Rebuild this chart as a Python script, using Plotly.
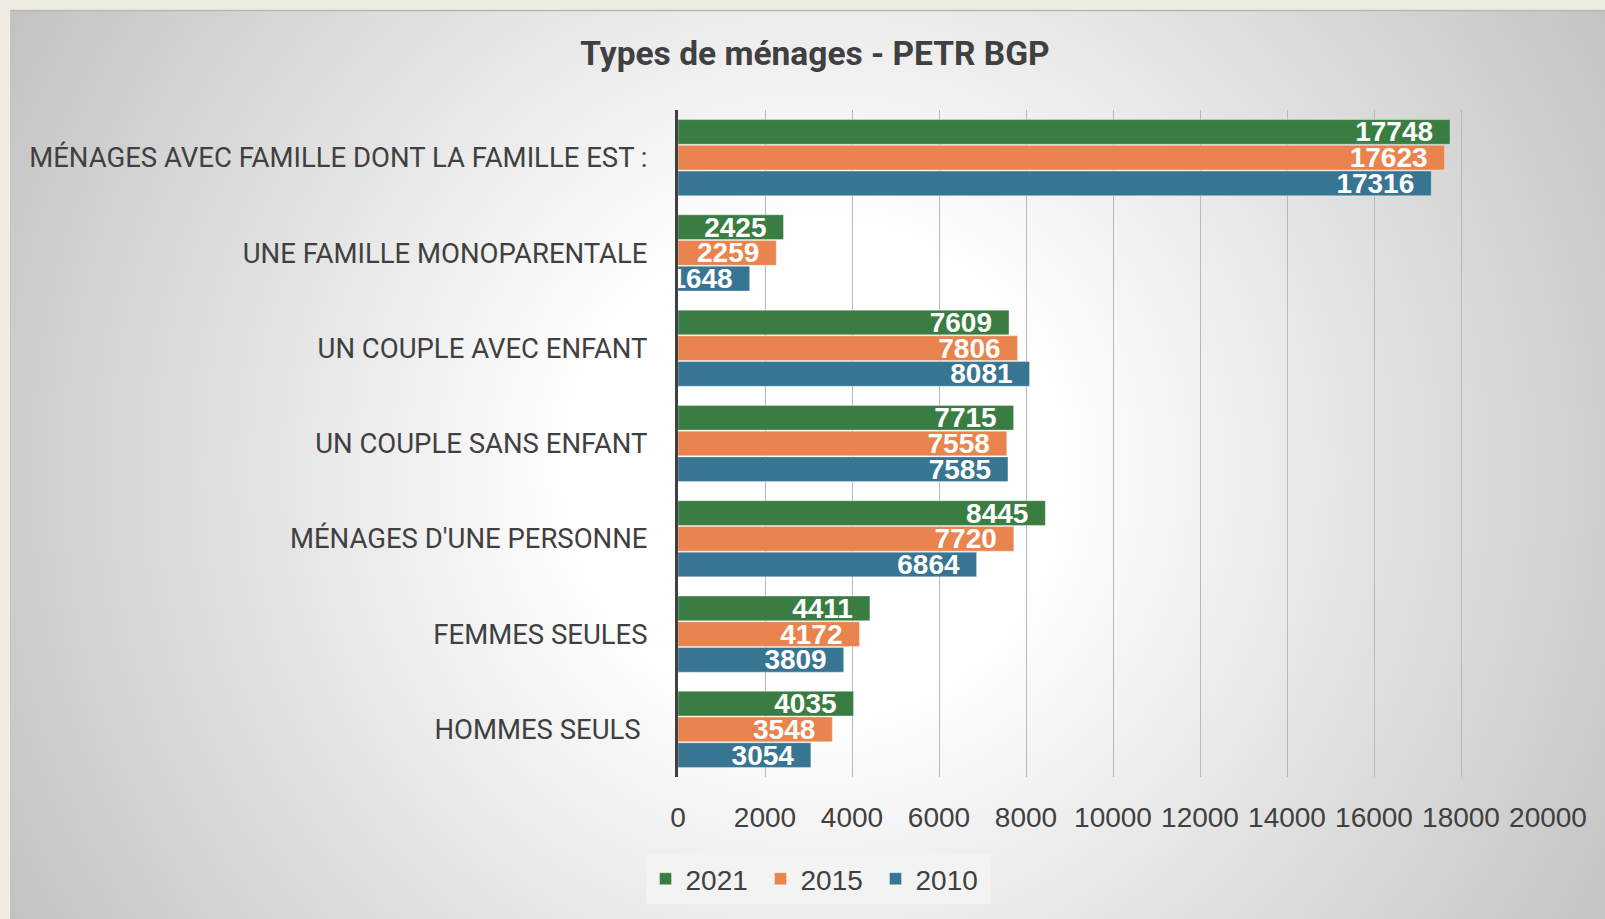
import base64
import plotly.graph_objects as go

categories = [
    "MÉNAGES AVEC FAMILLE DONT LA FAMILLE EST :",
    "UNE FAMILLE MONOPARENTALE",
    "UN COUPLE AVEC ENFANT",
    "UN COUPLE SANS ENFANT",
    "MÉNAGES D'UNE PERSONNE",
    "FEMMES SEULES",
    "HOMMES SEULS\u00a0",
]
values_2021 = [17748, 2425, 7609, 7715, 8445, 4411, 4035]
values_2015 = [17623, 2259, 7806, 7558, 7720, 4172, 3548]
values_2010 = [17316, 1648, 8081, 7585, 6864, 3809, 3054]
series_names = ["2021", "2015", "2010"]
series_colors = ["#3A7D43", "#E9844E", "#377592"]
x_ticks = [0, 2000, 4000, 6000, 8000, 10000, 12000, 14000, 16000, 18000, 20000]

W, H = 1605, 919
ML, MR, MT, MB = 678, 57, 110, 142
PW = W - ML - MR
PH = H - MT - MB

svg = f'''<svg xmlns="http://www.w3.org/2000/svg" width="{W}" height="{H}" viewBox="0 0 {W} {H}">
<defs><radialGradient id="g" gradientUnits="userSpaceOnUse" cx="815" cy="470" r="1000">
<stop offset="0.24" stop-color="#FFFFFF"/><stop offset="1" stop-color="#BCBCBC"/></radialGradient></defs>
<rect x="0" y="0" width="{W}" height="{H}" fill="#EFECE2"/>
<rect x="10" y="10" width="{W-10}" height="{H-10}" fill="url(#g)"/>
<line x1="10" y1="10.5" x2="{W}" y2="10.5" stroke="#B8B8B8" stroke-width="1.5"/>
<line x1="10.5" y1="10" x2="10.5" y2="{H}" stroke="#C4C4C4" stroke-width="1"/>
</svg>'''
bg_uri = "data:image/svg+xml;base64," + base64.b64encode(svg.encode()).decode()

fig = go.Figure()
for name, vals, col in zip(series_names, [values_2021, values_2015, values_2010], series_colors):
    fig.add_trace(go.Bar(
        y=categories, x=vals, name=name, orientation="h",
        marker=dict(color=col, line=dict(color="rgba(255,255,255,0.35)", width=1)),
        text=[str(v) for v in vals], texttemplate="%{text}\u2002",
        textposition="inside", insidetextanchor="end", constraintext="none",
        textangle=0, cliponaxis=False,
        textfont=dict(family="Liberation Sans, Arial", size=28, color="white", weight="bold"),
    ))

fig.update_layout(
    width=W, height=H,
    margin=dict(l=ML, r=MR, t=MT, b=MB, pad=0, autoexpand=False),
    paper_bgcolor="#EFECE2", plot_bgcolor="rgba(0,0,0,0)",
    barmode="group", bargap=0.19, bargroupgap=0.04,
    title=dict(text="<b>Types de ménages - PETR BGP</b>", x=815 / W, xref="container", xanchor="center",
               y=1 - 53 / H, yref="container", yanchor="middle", automargin=False,
               font=dict(family="Roboto, Liberation Sans", size=33.5, color="#404040")),
    xaxis=dict(range=[0, 20000], tickvals=x_ticks, ticktext=[str(t) for t in x_ticks],
               showgrid=True, gridcolor="#B8B8B8", gridwidth=1, zeroline=False,
               ticks="", ticklabelstandoff=21, tickangle=0, automargin=False,
               tickfont=dict(family="Liberation Sans, Arial", size=28, color="#404040"),
               fixedrange=True),
    yaxis=dict(autorange="reversed", showline=True, linecolor="#404040", linewidth=3,
               showgrid=False, ticks="", ticklabelstandoff=22, automargin=False,
               tickfont=dict(family="Roboto, Liberation Sans", size=27.5, color="#404040")),
    legend=dict(orientation="h", x=(818 - ML) / PW, xanchor="center", y=-(879 - (H - MB)) / PH, yanchor="middle",
                bgcolor="#F3F3F3", font=dict(family="Liberation Sans, Arial", size=28, color="#404040"),
                entrywidth=70, entrywidthmode="pixels", itemclick=False),
    images=[dict(source=bg_uri, xref="paper", yref="paper", x=-ML / PW, y=1 + MT / PH,
                 sizex=W / PW, sizey=H / PH, sizing="stretch", layer="below", xanchor="left", yanchor="top")],
    showlegend=True,
)

fig.write_html("out.html", config={"displayModeBar": False},
               post_script="document.body.style.margin='0';document.body.style.overflow='hidden';")
